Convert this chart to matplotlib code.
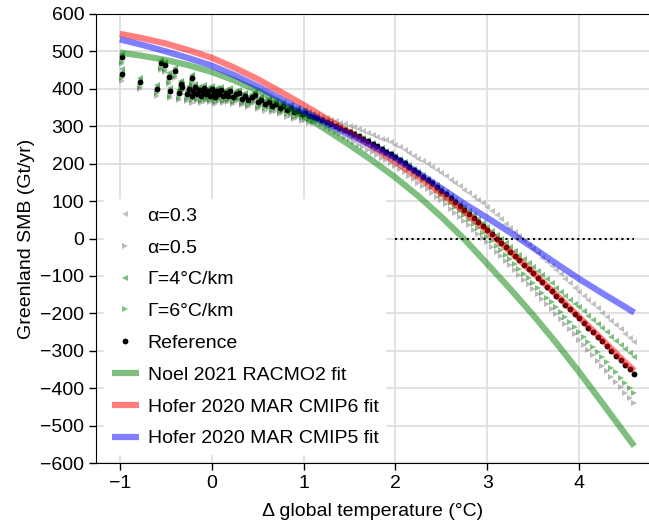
import matplotlib
matplotlib.use('Agg')
import matplotlib.pyplot as plt
import numpy as np

'''
Greenland SMB against global temperature change:
reference run, sensitivity runs and published fits.
'''

# historical period (shared x for all scatter series)
hist_t = [-0.98, -0.98, -0.78, -0.60, -0.55, -0.51, -0.47, -0.45, -0.40, -0.36,
          -0.34, -0.32, -0.27, -0.21,
          -0.25, -0.22, -0.20, -0.18, -0.16, -0.14, -0.12, -0.10, -0.08, -0.06,
          -0.04, -0.02, 0.00, 0.02, 0.04, 0.06, 0.08, 0.10, 0.12, 0.15,
          0.18, 0.20, 0.23, 0.26, 0.30, 0.33, 0.36, 0.40, 0.44, 0.47,
          0.50, 0.54, 0.58, 0.62, 0.66, 0.70, 0.74, 0.78, 0.82, 0.86,
          0.90, 0.94, 0.98, 1.02, 1.06, 1.10]

hist_ref = [484, 440, 418, 400, 468, 463, 431, 393, 447, 388, 413, 405, 386, 429,
            400, 381, 395, 404, 386, 398, 380, 392, 401, 385, 394, 382, 399, 388, 378, 393,
            385, 396, 380, 389, 382, 394, 377, 385, 388, 374, 381, 370, 377, 384, 364, 371,
            360, 366, 355, 360, 350, 355, 344, 348, 338, 342, 333, 336, 328, 326]
hist_g4 = [494, 452, 428, 410, 476, 472, 441, 403, 456, 398, 421, 414, 395, 437,
           408, 390, 403, 412, 395, 406, 389, 400, 409, 394, 402, 391, 407, 396, 387, 401,
           393, 404, 389, 397, 390, 402, 386, 393, 396, 383, 389, 379, 385, 392, 373, 379,
           369, 374, 364, 368, 359, 363, 353, 356, 347, 350, 342, 344, 337, 334]
hist_g6 = [472, 428, 406, 388, 456, 451, 419, 381, 435, 376, 401, 393, 374, 417,
           388, 369, 383, 392, 374, 386, 368, 380, 389, 373, 382, 370, 387, 376, 366, 381,
           373, 384, 368, 377, 370, 382, 365, 373, 376, 362, 369, 358, 365, 372, 352, 359,
           348, 354, 343, 348, 338, 343, 332, 336, 326, 330, 321, 324, 316, 314]
hist_a3 = [489, 446, 423, 405, 472, 467, 436, 398, 451, 393, 417, 409, 390, 433,
           404, 385, 399, 408, 390, 402, 384, 396, 405, 389, 398, 386, 403, 392, 382, 397,
           389, 400, 384, 393, 386, 398, 381, 389, 392, 378, 385, 374, 381, 388, 368, 375,
           364, 370, 359, 364, 354, 359, 348, 352, 342, 346, 337, 340, 332, 330]
hist_a5 = [466, 422, 400, 382, 450, 445, 413, 375, 429, 370, 395, 387, 368, 411,
           382, 363, 377, 386, 368, 380, 362, 374, 383, 367, 376, 364, 381, 370, 360, 375,
           367, 378, 362, 371, 364, 376, 359, 367, 370, 356, 363, 352, 359, 366, 346, 353,
           342, 348, 337, 342, 332, 337, 326, 330, 320, 324, 315, 318, 310, 308]

# scenario period, 1.15 .. 4.60 every 0.05
fut_t = np.round(np.arange(1.15, 4.6001, 0.05), 2)

fut_ref = [322, 317, 311, 306, 301, 296, 290, 285,
           279, 273, 266, 260, 253, 246, 239, 232, 225, 218,
           210, 201, 192, 183, 174, 165, 156, 147, 138, 128,
           118, 107, 97, 86, 76, 65, 54, 44, 33, 22,
           11, -1, -12, -24, -35, -47, -58, -70, -81, -93,
           -105, -117, -129, -141, -153, -165, -177, -189, -201, -213,
           -225, -238, -250, -263, -275, -288, -300, -313, -325, -338,
           -350, -362]
fut_a3 = [330, 326, 322, 318, 314, 310, 306, 302,
          297, 292, 287, 282, 277, 272, 267, 262, 257, 251,
          244, 236, 229, 221, 213, 206, 198, 190, 183, 175,
          166, 157, 148, 139, 130, 121, 112, 103, 94, 85,
          74, 62, 51, 40, 28, 17, 6, -6, -17, -28,
          -39, -51, -62, -74, -85, -96, -108, -119, -131, -142,
          -153, -164, -176, -187, -198, -209, -220, -232, -243, -254,
          -265, -276]
fut_a5 = [312, 306, 299, 292, 285, 279, 272, 265,
          258, 251, 244, 237, 230, 223, 216, 209, 202, 195,
          186, 177, 168, 158, 149, 140, 131, 122, 112, 103,
          92, 80, 69, 58, 46, 35, 24, 12, 1, -10,
          -22, -35, -47, -60, -72, -85, -97, -110, -122, -135,
          -148, -162, -175, -189, -202, -216, -229, -243, -256, -270,
          -284, -298, -312, -327, -341, -355, -369, -384, -398, -412,
          -426, -440]
fut_g4 = [324, 319, 313, 308, 303, 298, 292, 287,
          281, 275, 268, 262, 255, 248, 241, 235, 228, 221,
          213, 204, 196, 187, 178, 169, 160, 152, 143, 133,
          124, 113, 103, 93, 83, 73, 62, 52, 42, 32,
          21, 10, 0, -11, -22, -33, -43, -54, -65, -76,
          -87, -98, -109, -120, -131, -142, -153, -164, -175, -184,
          -195, -206, -218, -229, -240, -251, -262, -273, -284, -295,
          -306, -316]
fut_g6 = [320, 315, 309, 304, 298, 293, 287, 282,
          275, 269, 262, 255, 248, 241, 234, 226, 219, 212,
          203, 194, 185, 175, 166, 156, 147, 137, 127, 117,
          106, 95, 84, 73, 62, 50, 39, 28, 16, 5,
          -7, -19, -32, -44, -56, -69, -81, -94, -106, -119,
          -132, -145, -158, -171, -184, -197, -210, -223, -237, -250,
          -264, -277, -291, -304, -318, -331, -345, -358, -372, -386,
          -399, -413]

# published fits, sampled every 0.25 degC
fit_t = [-1.0, -0.75, -0.5, -0.25, 0.0, 0.25, 0.5, 0.75, 1.0, 1.25, 1.5, 1.75,
         2.0, 2.25, 2.5, 2.75, 3.0, 3.25, 3.5, 3.75, 4.0, 4.25, 4.5, 4.6]
noel_fit = [497, 488, 477, 463, 445, 422, 395, 363, 328, 290, 250, 208,
            163, 113, 58, -2, -68, -135, -205, -279, -357, -439, -522, -555]
hofer6_fit = [547, 535, 521, 503, 483, 456, 426, 392, 357, 320, 283, 245,
              205, 164, 120, 72, 20, -35, -92, -150, -210, -270, -331, -353]
hofer5_fit = [532, 517, 500, 482, 462, 436, 406, 373, 340, 308, 278, 247,
              215, 175, 134, 93, 55, 16, -25, -67, -108, -146, -183, -198]

zero_line_t = [2.0, 4.6]


def scatter_series(ax, t, y, marker, color, alpha, ms, label):
    ax.plot(t, y, linestyle='none', marker=marker, color=color, alpha=alpha,
            ms=ms, mew=0, label=label)


def main():
    plt.rcParams['font.family'] = ['Liberation Sans', 'DejaVu Sans']
    plt.rcParams['font.size'] = 14
    plt.rcParams['axes.unicode_minus'] = True

    fig = plt.figure(figsize=(6.49, 5.29), dpi=100)
    ax = fig.add_axes([96 / 649, 66 / 529, 553 / 649, 449 / 529])

    t_all = list(hist_t) + list(fut_t)
    scatter_series(ax, t_all, hist_a3 + fut_a3, '<', '0.6', 0.6, 4.2, u'α=0.3')
    scatter_series(ax, t_all, hist_a5 + fut_a5, '>', '0.55', 0.6, 4.2, u'α=0.5')
    scatter_series(ax, t_all, hist_g4 + fut_g4, '<', 'green', 0.5, 4.2, u'Γ=4°C/km')
    scatter_series(ax, t_all, hist_g6 + fut_g6, '>', 'green', 0.5, 4.2, u'Γ=6°C/km')
    scatter_series(ax, t_all, hist_ref + fut_ref, 'o', 'black', 1.0, 4.2, 'Reference')

    ax.plot(fit_t, noel_fit, color='green', alpha=0.5, lw=4.5,
            solid_capstyle='butt', label='Noel 2021 RACMO2 fit')
    ax.plot(fit_t, hofer6_fit, color='red', alpha=0.5, lw=4.5,
            solid_capstyle='butt', label='Hofer 2020 MAR CMIP6 fit')
    ax.plot(fit_t, hofer5_fit, color='blue', alpha=0.5, lw=4.5,
            solid_capstyle='butt', label='Hofer 2020 MAR CMIP5 fit')

    ax.plot(zero_line_t, [0, 0], color='black', linestyle=':', lw=1.5)

    ax.set_xlim(-1.26, 4.76)
    ax.set_ylim(-600, 600)
    ax.set_xticks([-1, 0, 1, 2, 3, 4])
    ax.set_yticks(np.arange(-600, 601, 100))
    ax.grid(True, color='#dddddd', lw=1.2)
    ax.set_axisbelow(True)
    ax.tick_params(direction='out', length=5, width=1, labelsize=14)
    ax.spines['right'].set_visible(False)

    ax.set_xlabel(u'Δ global temperature (°C)', labelpad=8)
    ax.set_ylabel('Greenland SMB (Gt/yr)', labelpad=4)

    leg = ax.legend(loc='lower left', numpoints=1, handlelength=1.4,
                    handletextpad=0.45, labelspacing=0.73, borderpad=0.4,
                    borderaxespad=0.4, fontsize=14, frameon=True,
                    fancybox=False, framealpha=1.0)
    leg.get_frame().set_edgecolor('none')
    leg.get_frame().set_facecolor('white')

    fig.savefig('out.png', dpi=100)


if __name__ == '__main__':
    main()
